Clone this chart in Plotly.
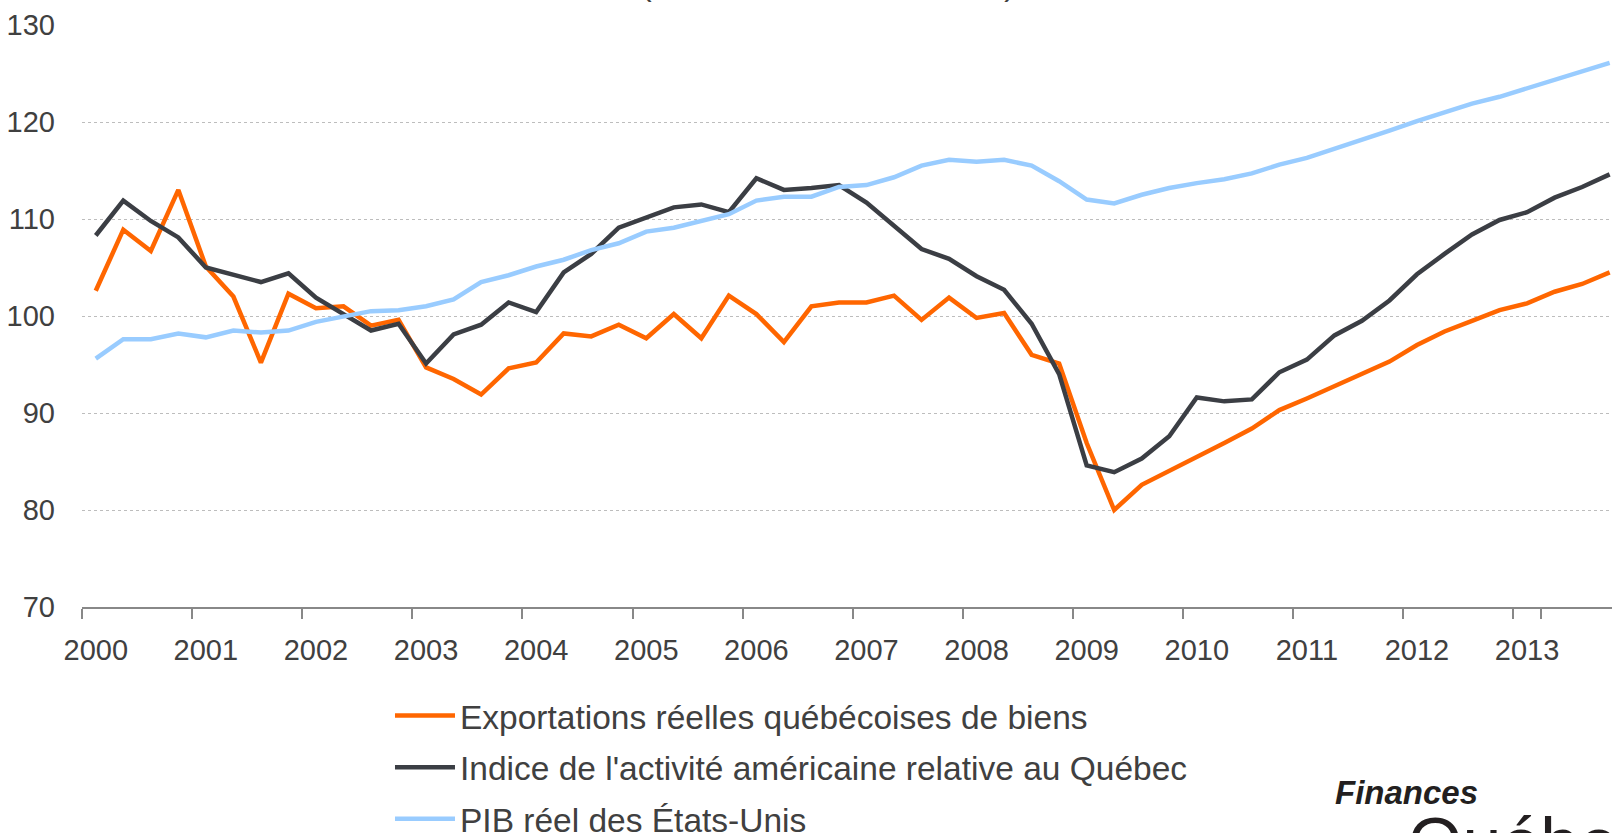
import plotly.graph_objects as go

# ---------------- data ----------------
years = list(range(2000, 2014))
quarters = [f"{y}T{q}" for y in years for q in range(1, 5)]
tick_labels = [str(y) for y in years]

exportations = [
    102.6, 108.9, 106.7, 113.0, 105.1, 102.0, 95.2, 102.3,
    100.8, 101.0, 99.0, 99.6, 94.7, 93.5, 91.9, 94.6,
    95.2, 98.2, 97.9, 99.1, 97.7, 100.2, 97.7, 102.1,
    100.2, 97.3, 101.0, 101.4, 101.4, 102.1, 99.6, 101.9,
    99.8, 100.3, 96.0, 95.1, 86.9, 80.0, 82.6, 84.0,
    85.4, 86.9, 88.4, 90.3, 91.5, 92.8, 94.0, 95.3,
    97.0, 98.4, 99.5, 100.6, 101.3, 102.5, 103.3, 104.5,
]
activite_us = [
    108.3, 111.9, 109.8, 108.1, 105.0, 104.2, 103.5, 104.4,
    101.9, 100.2, 98.5, 99.2, 95.1, 98.1, 99.1, 101.4,
    100.4, 104.5, 106.4, 109.1, 110.2, 111.2, 111.5, 110.7,
    114.2, 113.0, 113.2, 113.5, 111.7, 109.3, 106.9, 105.9,
    104.1, 102.7, 99.2, 94.0, 84.6, 83.9, 85.3, 87.6,
    91.6, 91.2, 91.4, 94.2, 95.5, 98.0, 99.5, 101.6,
    104.3, 106.4, 108.4, 109.9, 110.7, 112.2, 113.3, 114.6,
]
pib_us = [
    95.6, 97.6, 97.6, 98.2, 97.8, 98.5, 98.3, 98.5,
    99.4, 99.9, 100.5, 100.6, 101.0, 101.7, 103.5, 104.2,
    105.1, 105.8, 106.8, 107.5, 108.7, 109.1, 109.8, 110.5,
    111.9, 112.3, 112.3, 113.3, 113.5, 114.3, 115.5, 116.1,
    115.9, 116.1, 115.5, 113.9, 112.0, 111.6, 112.5, 113.2,
    113.7, 114.1, 114.7, 115.6, 116.3, 117.2, 118.1, 119.1,
    120.1, 121.0, 121.9, 122.6, 123.5, 124.4, 125.2, 126.1,
]
series_names = [
    "Exportations réelles québécoises de biens",
    "Indice de l'activité américaine relative au Québec",
    "PIB réel des États-Unis",
]
y_ticks = [70, 80, 90, 100, 110, 120, 130]

FONT = "Liberation Sans, Arial, sans-serif"
TXT = "#404040"

fig = go.Figure()
for name, vals, col, grp in zip(
    series_names,
    [exportations, activite_us, pib_us],
    ["#FF6600", "#3B3E44", "#99CCFF"],
    ["a", "b", "c"],
):
    fig.add_trace(go.Scatter(
        x=quarters, y=vals, mode="lines", name=name, legendgroup=grp,
        line=dict(color=col, width=4.5),
        hoverinfo="skip",
    ))

W, H = 1612, 833
ML, MR, MT, MB = 82, 0, 25, 226
PH = H - MT - MB


def py(px):
    """pixel row -> paper y"""
    return 1 - (px - MT) / PH


fig.update_layout(
    width=W, height=H,
    margin=dict(l=ML, r=MR, t=MT, b=MB, pad=0, autoexpand=False),
    paper_bgcolor="white", plot_bgcolor="white",
    font=dict(family=FONT, color=TXT),
    showlegend=True,
    legend=dict(
        orientation="v", x=0.2013, y=-0.138, xanchor="left", yanchor="top",
        font=dict(size=33.5, color=TXT, family=FONT),
        traceorder="grouped", tracegroupgap=5, itemwidth=60,
        bgcolor="rgba(0,0,0,0)",
    ),
    xaxis=dict(
        type="category", tickmode="array",
        tickvals=quarters[::4], ticktext=tick_labels, tickangle=0,
        tickson="boundaries", ticks="outside", ticklen=10, tickwidth=1.5,
        tickcolor="#888888", showline=True, linecolor="#888888", linewidth=2,
        showgrid=False, zeroline=False, automargin=False,
        range=[-0.5, 55.085],
        tickfont=dict(size=29, color=TXT, family=FONT),
        ticklabelstandoff=16,
    ),
    yaxis=dict(
        range=[70, 130], tickmode="array", tickvals=y_ticks,
        ticks="", showgrid=True, gridcolor="#BDBDBD", griddash="dot", gridwidth=1,
        zeroline=False, showline=False, automargin=False,
        tickfont=dict(size=29, color=TXT, family=FONT),
        ticklabelstandoff=26,
    ),
    annotations=[
        dict(text="(indice, T1 de 2000 = 100)", xref="paper", yref="paper",
             x=(828 - ML) / (W - ML), y=1.0696, xanchor="center", yanchor="middle",
             showarrow=False, font=dict(size=32, color=TXT, family=FONT)),
        dict(text="<b><i>Finances</i></b>", xref="paper", yref="paper",
             x=(1333 - ML) / (W - ML), y=py(792),
             xanchor="left", yanchor="middle", showarrow=False,
             font=dict(size=33, color="#231F20", family=FONT)),
        dict(text="Québec", xref="paper", yref="paper",
             x=(1406 - ML) / (W - ML), y=py(802),
             xanchor="left", yanchor="top", showarrow=False,
             font=dict(size=70, color="#231F20", family=FONT)),
    ],
)

fig.write_html(
    "out.html", include_plotlyjs=True,
    config={"displayModeBar": False},
    post_script="document.body.style.margin='0';document.body.style.overflow='hidden';",
)
